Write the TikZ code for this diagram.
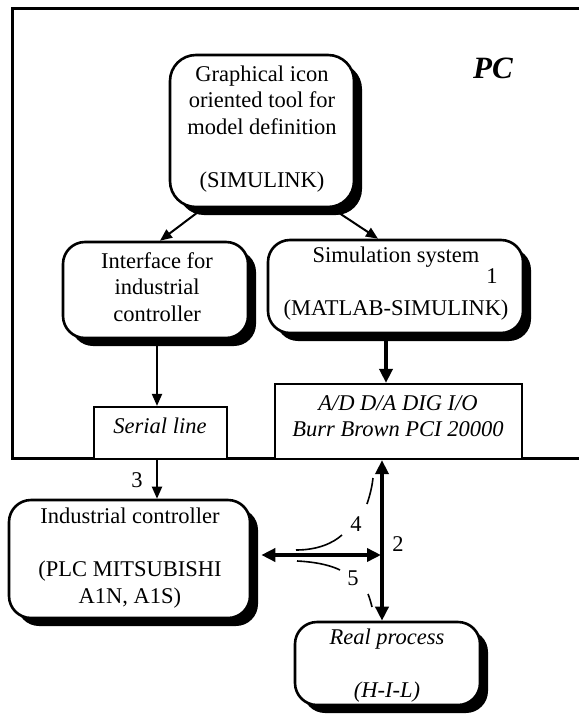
\documentclass[tikz,border=0pt]{standalone}
\usepackage{fontspec}
\setmainfont{Liberation Serif}
\usetikzlibrary{arrows.meta,shadows,calc}
\begin{document}
\begin{tikzpicture}[x=1pt,y=-1pt,
  box/.style={draw,line width=2.6pt,rounded corners=22pt,fill=white,inner sep=0pt,
    drop shadow={shadow xshift=8pt,shadow yshift=-8pt,fill=black,opacity=1}},
  plainbox/.style={draw,line width=2.2pt,fill=white,inner sep=0pt},
  txt/.style={font=\fontsize{22.5}{26.5}\selectfont,align=center,inner sep=0pt},
  itxt/.style={txt,font=\fontsize{22.5}{26.5}\selectfont\itshape},
  arr/.style={line width=2pt,-{Triangle[length=12pt,width=10pt]}},
  bigarr/.style={line width=4pt,-{Triangle[length=14pt,width=13pt]}},
  bigdbl/.style={line width=4pt,{Triangle[length=14pt,width=13pt]}-{Triangle[length=14pt,width=13pt]}},
  curve/.style={line width=1.6pt}]
\useasboundingbox (0,0) rectangle (579,723);
% PC frame
\draw[line width=3pt] (579,8) -- (12,8) -- (12,458) -- (579,458);
\node[font=\fontsize{31}{36}\selectfont\bfseries\itshape,inner sep=0pt] (pc) at (493,68) {PC};
% boxes
\node[box,rounded corners=26pt,minimum width=184pt,minimum height=152pt] (simk) at (262,131) {};
\node[txt] (simkT) at (262,129) {Graphical icon\\oriented tool for\\model definition\\[26.5pt](SIMULINK)};
\node[box,minimum width=185pt,minimum height=96pt] (iface) at (155.5,290) {};
\node[txt] (ifaceT) at (157,287) {Interface for\\industrial\\controller};
\node[box,minimum width=255pt,minimum height=93pt] (simsys) at (395.5,286.5) {};
\node[txt] (simsysT) at (396,284) {Simulation system\\[26.5pt](MATLAB-SIMULINK)};
\node[txt] (one) at (492,276) {1};
\node[plainbox,minimum width=133pt,minimum height=52pt] (serial) at (160.5,433) {};
\node[itxt] (serialT) at (160,426) {Serial line};
\node[plainbox,minimum width=247pt,minimum height=75pt] (adio) at (398.5,421.5) {};
\node[itxt] (adioT) at (398,416) {A/D D/A DIG I/O\\Burr Brown PCI 20000};
\node[box,minimum width=241pt,minimum height=118pt] (ind) at (129.5,559) {};
\node[txt] (indT) at (130,558) {Industrial controller\\[26.5pt](PLC MITSUBISHI\\A1N, A1S)};
\node[box,minimum width=185pt,minimum height=83pt] (real) at (387.5,663.5) {};
\node[itxt] (realT) at (387,666) {Real process\\[26.5pt](H-I-L)};
% connectors
\draw[arr] ([xshift=-59pt]simk.south) -- ([xshift=4.5pt]iface.north);
\draw[arr] ([xshift=70pt]simk.south) -- ([xshift=-17.5pt]simsys.north);
\draw[arr] ([xshift=1.5pt]iface.south) -- ([xshift=-3.5pt]serial.north);
\draw[bigarr] ([xshift=-9.5pt]simsys.south) -- ([xshift=-12.5pt]adio.north);
\draw[arr] ([xshift=-3.5pt]serial.south) -- ([xshift=27.5pt]ind.north);
\node[txt] (l3) at (137,480) {3};
\draw[bigdbl] ([xshift=-16.5pt]adio.south) -- ([xshift=-5.5pt]real.north);
\coordinate (junc) at (381,555);
\draw[bigdbl] ([xshift=10pt,yshift=4pt]ind.east) -- (junc);
\node[txt] (l2) at (398,544) {2};
\node[txt] (l4) at (356,524) {4};
\node[txt] (l5) at (353,578) {5};
% label arcs
\draw[curve] (296,550) .. controls (318,550) and (333,543) .. (342,535);
\draw[curve] (367,504) .. controls (370,495) and (372,487) .. (373,478);
\draw[curve] (297,561) .. controls (318,562) and (332,566) .. (340,570);
\draw[curve] (368,594) .. controls (370,599) and (371,603) .. (372,607);
\end{tikzpicture}
\end{document}
